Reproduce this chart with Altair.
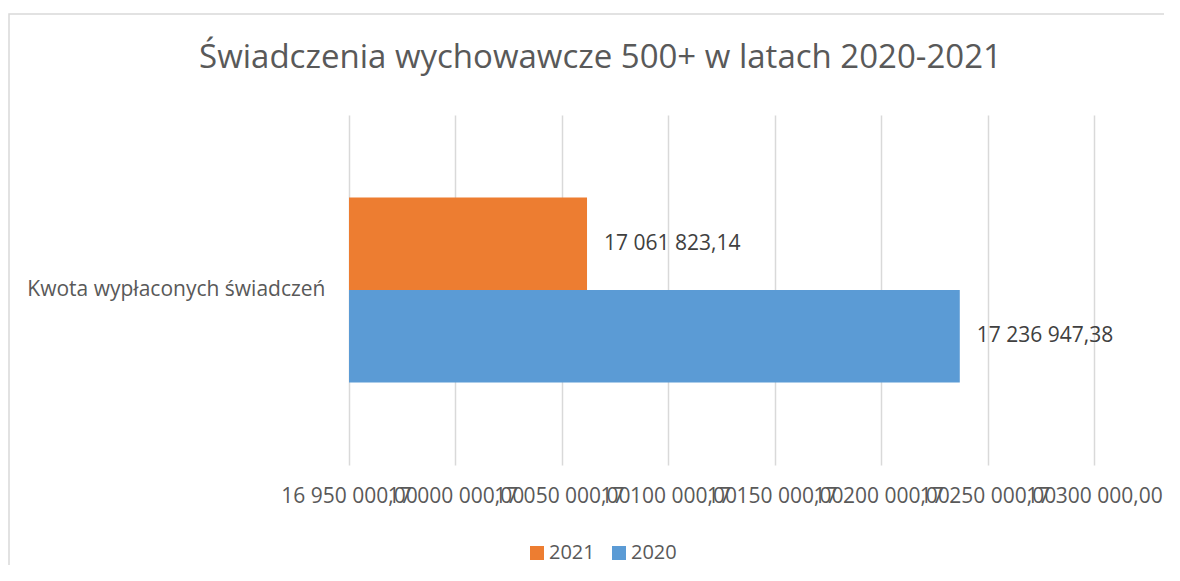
import altair as alt
import pandas as pd

# ---- data ----
categories = ["Kwota wypłaconych świadczeń", "Kwota wypłaconych świadczeń"]
years = ["2021", "2020"]
amounts = [17061823.14, 17236947.38]
x_ticks = [16950000, 17000000, 17050000, 17100000, 17150000, 17200000, 17250000, 17300000]
colors = ["#ED7D31", "#5B9BD5"]
title_text = "Świadczenia wychowawcze 500+ w latach 2020-2021"

df = pd.DataFrame({"kategoria": categories, "rok": years, "kwota": amounts})

FONT = "Open Sans"
GREY = "#595959"
FS = 21
fmt = "replace(replace(format({v}, ',.2f'), regexp(',', 'g'), ' '), '.', ',')"

base = alt.Chart(df).encode(
    y=alt.Y(
        "kategoria:N",
        title=None,
        scale=alt.Scale(paddingInner=0, paddingOuter=0.446),
        axis=alt.Axis(
            domain=False, ticks=False, grid=False, labelPadding=24,
            labelFont=FONT, labelFontSize=FS, labelColor=GREY, labelLimit=400,
        ),
    ),
    yOffset=alt.YOffset("rok:N", sort=years, scale=alt.Scale(paddingInner=0, paddingOuter=0)),
)

bars = base.mark_bar().encode(
    x=alt.X(
        "kwota:Q",
        title=None,
        scale=alt.Scale(domain=[x_ticks[0], x_ticks[-1]], zero=False, nice=False),
        axis=alt.Axis(
            values=x_ticks, labelExpr=fmt.format(v="datum.value"), labelOverlap=False,
            labelFlush=False, domain=False, ticks=False, grid=True, gridColor="#D9D9D9",
            gridWidth=1.5, labelPadding=20, labelFont=FONT, labelFontSize=FS, labelColor=GREY,
        ),
    ),
    x2=alt.datum(x_ticks[0]),
    color=alt.Color(
        "rok:N",
        sort=years,
        scale=alt.Scale(domain=years, range=colors),
        legend=alt.Legend(
            title=None, orient="none", legendX=178, legendY=428, direction="horizontal",
            symbolType="square", symbolSize=196, symbolStrokeWidth=0, labelFont=FONT,
            labelFontSize=20, labelColor=GREY, columnPadding=14, labelOffset=2, padding=0,
        ),
    ),
)

labels = base.mark_text(
    align="left", baseline="middle", dx=17, font=FONT, fontSize=FS, color="#404040"
).transform_calculate(etykieta=fmt.format(v="datum.kwota")).encode(
    x="kwota:Q", text="etykieta:N"
)

frame = alt.Chart(pd.DataFrame({"k": [0]})).mark_rect(
    fillOpacity=0, stroke="#D9D9D9", strokeWidth=1.5
).encode(
    x=alt.value(-340), x2=alt.value(900), y=alt.value(-101), y2=alt.value(520)
)

chart = alt.layer(frame, bars, labels).properties(
    width=745,
    height=350,
    padding={"left": 341, "top": 107, "right": 70, "bottom": 100},
    autosize=alt.AutoSizeParams(type="none"),
    title=alt.Title(
        title_text, font=FONT, fontSize=33, fontWeight="normal", color=GREY,
        anchor="middle", frame="group", dx=-121, offset=-62,
    ),
).configure_view(strokeOpacity=0)

chart.save("out.html", embed_options={"renderer": "svg", "actions": False})
